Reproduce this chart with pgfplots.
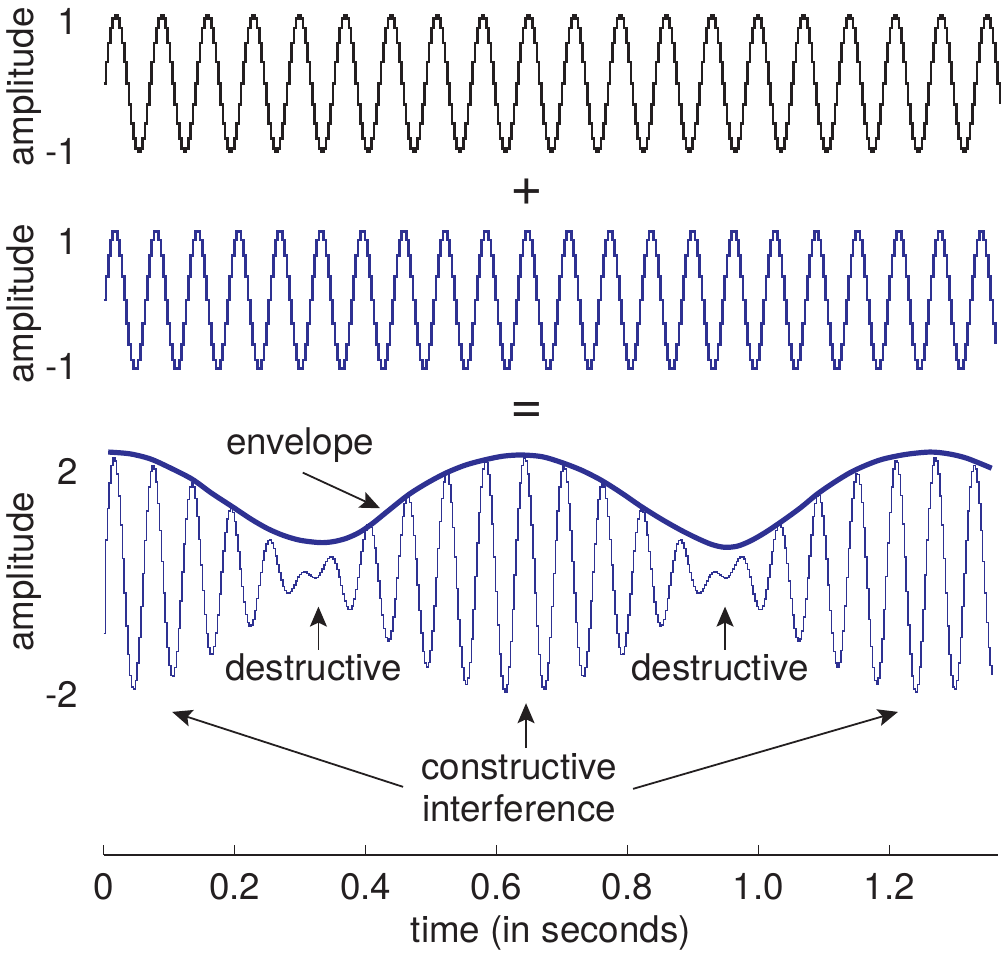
\documentclass[border=0pt]{standalone}
\usepackage{fontspec}
\setmainfont{TeX Gyre Heros}
\usepackage{pgfplots}
\pgfplotsset{compat=1.18}
\usepackage{pgfplotstable}
\usetikzlibrary{arrows.meta}
\definecolor{wblue}{RGB}{46,49,146}
\definecolor{wblack}{RGB}{35,31,32}
\newcommand\lbl{\fontsize{18.4}{22}\selectfont}

\pgfplotstableread[row sep=\\]{
t a b\\
0 0 0\\ 0.0035 0.309 0.342\\ 0.007 0.588 0.643\\ 0.0105 0.809 0.866\\ 0.014 0.951 0.985\\ 0.0175 1 0.985\\ 0.021 0.951 0.866\\ 0.0245 0.809 0.643\\ 0.028 0.588 0.342\\ 0.0315 0.309 0\\ 0.035 0 -0.342\\ 0.0385 -0.309 -0.643\\ 0.042 -0.588 -0.866\\ 0.0455 -0.809 -0.985\\ 0.049 -0.951 -0.985\\ 0.0525 -1 -0.866\\ 0.056 -0.951 -0.643\\ 0.0595 -0.809 -0.342\\ 0.063 -0.588 0\\ 0.0665 -0.309 0.342\\
0.07 0 0.643\\ 0.0735 0.309 0.866\\ 0.077 0.588 0.985\\ 0.0805 0.809 0.985\\ 0.084 0.951 0.866\\ 0.0875 1 0.643\\ 0.091 0.951 0.342\\ 0.0945 0.809 0\\ 0.098 0.588 -0.342\\ 0.1015 0.309 -0.643\\ 0.105 0 -0.866\\ 0.1085 -0.309 -0.985\\ 0.112 -0.588 -0.985\\ 0.1155 -0.809 -0.866\\ 0.119 -0.951 -0.643\\ 0.1225 -1 -0.342\\ 0.126 -0.951 0\\ 0.1295 -0.809 0.342\\ 0.133 -0.588 0.643\\ 0.1365 -0.309 0.866\\
0.14 0 0.985\\ 0.1435 0.309 0.985\\ 0.147 0.588 0.866\\ 0.1505 0.809 0.643\\ 0.154 0.951 0.342\\ 0.1575 1 0\\ 0.161 0.951 -0.342\\ 0.1645 0.809 -0.643\\ 0.168 0.588 -0.866\\ 0.1715 0.309 -0.985\\ 0.175 0 -0.985\\ 0.1785 -0.309 -0.866\\ 0.182 -0.588 -0.643\\ 0.1855 -0.809 -0.342\\ 0.189 -0.951 0\\ 0.1925 -1 0.342\\ 0.196 -0.951 0.643\\ 0.1995 -0.809 0.866\\ 0.203 -0.588 0.985\\ 0.2065 -0.309 0.985\\
0.21 0 0.866\\ 0.2135 0.309 0.643\\ 0.217 0.588 0.342\\ 0.2205 0.809 0\\ 0.224 0.951 -0.342\\ 0.2275 1 -0.643\\ 0.231 0.951 -0.866\\ 0.2345 0.809 -0.985\\ 0.238 0.588 -0.985\\ 0.2415 0.309 -0.866\\ 0.245 0 -0.643\\ 0.2485 -0.309 -0.342\\ 0.252 -0.588 0\\ 0.2555 -0.809 0.342\\ 0.259 -0.951 0.643\\ 0.2625 -1 0.866\\ 0.266 -0.951 0.985\\ 0.2695 -0.809 0.985\\ 0.273 -0.588 0.866\\ 0.2765 -0.309 0.643\\
0.28 0 0.342\\ 0.2835 0.309 0\\ 0.287 0.588 -0.342\\ 0.2905 0.809 -0.643\\ 0.294 0.951 -0.866\\ 0.2975 1 -0.985\\ 0.301 0.951 -0.985\\ 0.3045 0.809 -0.866\\ 0.308 0.588 -0.643\\ 0.3115 0.309 -0.342\\ 0.315 0 0\\ 0.3185 -0.309 0.342\\ 0.322 -0.588 0.643\\ 0.3255 -0.809 0.866\\ 0.329 -0.951 0.985\\ 0.3325 -1 0.985\\ 0.336 -0.951 0.866\\ 0.3395 -0.809 0.643\\ 0.343 -0.588 0.342\\ 0.3465 -0.309 0\\
0.35 0 -0.342\\ 0.3535 0.309 -0.643\\ 0.357 0.588 -0.866\\ 0.3605 0.809 -0.985\\ 0.364 0.951 -0.985\\ 0.3675 1 -0.866\\ 0.371 0.951 -0.643\\ 0.3745 0.809 -0.342\\ 0.378 0.588 0\\ 0.3815 0.309 0.342\\ 0.385 0 0.643\\ 0.3885 -0.309 0.866\\ 0.392 -0.588 0.985\\ 0.3955 -0.809 0.985\\ 0.399 -0.951 0.866\\ 0.4025 -1 0.643\\ 0.406 -0.951 0.342\\ 0.4095 -0.809 0\\ 0.413 -0.588 -0.342\\ 0.4165 -0.309 -0.643\\
0.42 0 -0.866\\ 0.4235 0.309 -0.985\\ 0.427 0.588 -0.985\\ 0.4305 0.809 -0.866\\ 0.434 0.951 -0.643\\ 0.4375 1 -0.342\\ 0.441 0.951 0\\ 0.4445 0.809 0.342\\ 0.448 0.588 0.643\\ 0.4515 0.309 0.866\\ 0.455 0 0.985\\ 0.4585 -0.309 0.985\\ 0.462 -0.588 0.866\\ 0.4655 -0.809 0.643\\ 0.469 -0.951 0.342\\ 0.4725 -1 0\\ 0.476 -0.951 -0.342\\ 0.4795 -0.809 -0.643\\ 0.483 -0.588 -0.866\\ 0.4865 -0.309 -0.985\\
0.49 0 -0.985\\ 0.4935 0.309 -0.866\\ 0.497 0.588 -0.643\\ 0.5005 0.809 -0.342\\ 0.504 0.951 0\\ 0.5075 1 0.342\\ 0.511 0.951 0.643\\ 0.5145 0.809 0.866\\ 0.518 0.588 0.985\\ 0.5215 0.309 0.985\\ 0.525 0 0.866\\ 0.5285 -0.309 0.643\\ 0.532 -0.588 0.342\\ 0.5355 -0.809 0\\ 0.539 -0.951 -0.342\\ 0.5425 -1 -0.643\\ 0.546 -0.951 -0.866\\ 0.5495 -0.809 -0.985\\ 0.553 -0.588 -0.985\\ 0.5565 -0.309 -0.866\\
0.56 0 -0.643\\ 0.5635 0.309 -0.342\\ 0.567 0.588 0\\ 0.5705 0.809 0.342\\ 0.574 0.951 0.643\\ 0.5775 1 0.866\\ 0.581 0.951 0.985\\ 0.5845 0.809 0.985\\ 0.588 0.588 0.866\\ 0.5915 0.309 0.643\\ 0.595 0 0.342\\ 0.5985 -0.309 0\\ 0.602 -0.588 -0.342\\ 0.6055 -0.809 -0.643\\ 0.609 -0.951 -0.866\\ 0.6125 -1 -0.985\\ 0.616 -0.951 -0.985\\ 0.6195 -0.809 -0.866\\ 0.623 -0.588 -0.643\\ 0.6265 -0.309 -0.342\\
0.63 0 0\\ 0.6335 0.309 0.342\\ 0.637 0.588 0.643\\ 0.6405 0.809 0.866\\ 0.644 0.951 0.985\\ 0.6475 1 0.985\\ 0.651 0.951 0.866\\ 0.6545 0.809 0.643\\ 0.658 0.588 0.342\\ 0.6615 0.309 0\\ 0.665 0 -0.342\\ 0.6685 -0.309 -0.643\\ 0.672 -0.588 -0.866\\ 0.6755 -0.809 -0.985\\ 0.679 -0.951 -0.985\\ 0.6825 -1 -0.866\\ 0.686 -0.951 -0.643\\ 0.6895 -0.809 -0.342\\ 0.693 -0.588 0\\ 0.6965 -0.309 0.342\\
0.7 0 0.643\\ 0.7035 0.309 0.866\\ 0.707 0.588 0.985\\ 0.7105 0.809 0.985\\ 0.714 0.951 0.866\\ 0.7175 1 0.643\\ 0.721 0.951 0.342\\ 0.7245 0.809 0\\ 0.728 0.588 -0.342\\ 0.7315 0.309 -0.643\\ 0.735 0 -0.866\\ 0.7385 -0.309 -0.985\\ 0.742 -0.588 -0.985\\ 0.7455 -0.809 -0.866\\ 0.749 -0.951 -0.643\\ 0.7525 -1 -0.342\\ 0.756 -0.951 0\\ 0.7595 -0.809 0.342\\ 0.763 -0.588 0.643\\ 0.7665 -0.309 0.866\\
0.77 0 0.985\\ 0.7735 0.309 0.985\\ 0.777 0.588 0.866\\ 0.7805 0.809 0.643\\ 0.784 0.951 0.342\\ 0.7875 1 0\\ 0.791 0.951 -0.342\\ 0.7945 0.809 -0.643\\ 0.798 0.588 -0.866\\ 0.8015 0.309 -0.985\\ 0.805 0 -0.985\\ 0.8085 -0.309 -0.866\\ 0.812 -0.588 -0.643\\ 0.8155 -0.809 -0.342\\ 0.819 -0.951 0\\ 0.8225 -1 0.342\\ 0.826 -0.951 0.643\\ 0.8295 -0.809 0.866\\ 0.833 -0.588 0.985\\ 0.8365 -0.309 0.985\\
0.84 0 0.866\\ 0.8435 0.309 0.643\\ 0.847 0.588 0.342\\ 0.8505 0.809 0\\ 0.854 0.951 -0.342\\ 0.8575 1 -0.643\\ 0.861 0.951 -0.866\\ 0.8645 0.809 -0.985\\ 0.868 0.588 -0.985\\ 0.8715 0.309 -0.866\\ 0.875 0 -0.643\\ 0.8785 -0.309 -0.342\\ 0.882 -0.588 0\\ 0.8855 -0.809 0.342\\ 0.889 -0.951 0.643\\ 0.8925 -1 0.866\\ 0.896 -0.951 0.985\\ 0.8995 -0.809 0.985\\ 0.903 -0.588 0.866\\ 0.9065 -0.309 0.643\\
0.91 0 0.342\\ 0.9135 0.309 0\\ 0.917 0.588 -0.342\\ 0.9205 0.809 -0.643\\ 0.924 0.951 -0.866\\ 0.9275 1 -0.985\\ 0.931 0.951 -0.985\\ 0.9345 0.809 -0.866\\ 0.938 0.588 -0.643\\ 0.9415 0.309 -0.342\\ 0.945 0 0\\ 0.9485 -0.309 0.342\\ 0.952 -0.588 0.643\\ 0.9555 -0.809 0.866\\ 0.959 -0.951 0.985\\ 0.9625 -1 0.985\\ 0.966 -0.951 0.866\\ 0.9695 -0.809 0.643\\ 0.973 -0.588 0.342\\ 0.9765 -0.309 0\\
0.98 0 -0.342\\ 0.9835 0.309 -0.643\\ 0.987 0.588 -0.866\\ 0.9905 0.809 -0.985\\ 0.994 0.951 -0.985\\ 0.9975 1 -0.866\\ 1.001 0.951 -0.643\\ 1.0045 0.809 -0.342\\ 1.008 0.588 0\\ 1.0115 0.309 0.342\\ 1.015 0 0.643\\ 1.0185 -0.309 0.866\\ 1.022 -0.588 0.985\\ 1.0255 -0.809 0.985\\ 1.029 -0.951 0.866\\ 1.0325 -1 0.643\\ 1.036 -0.951 0.342\\ 1.0395 -0.809 0\\ 1.043 -0.588 -0.342\\ 1.0465 -0.309 -0.643\\
1.05 0 -0.866\\ 1.0535 0.309 -0.985\\ 1.057 0.588 -0.985\\ 1.0605 0.809 -0.866\\ 1.064 0.951 -0.643\\ 1.0675 1 -0.342\\ 1.071 0.951 0\\ 1.0745 0.809 0.342\\ 1.078 0.588 0.643\\ 1.0815 0.309 0.866\\ 1.085 0 0.985\\ 1.0885 -0.309 0.985\\ 1.092 -0.588 0.866\\ 1.0955 -0.809 0.643\\ 1.099 -0.951 0.342\\ 1.1025 -1 0\\ 1.106 -0.951 -0.342\\ 1.1095 -0.809 -0.643\\ 1.113 -0.588 -0.866\\ 1.1165 -0.309 -0.985\\
1.12 0 -0.985\\ 1.1235 0.309 -0.866\\ 1.127 0.588 -0.643\\ 1.1305 0.809 -0.342\\ 1.134 0.951 0\\ 1.1375 1 0.342\\ 1.141 0.951 0.643\\ 1.1445 0.809 0.866\\ 1.148 0.588 0.985\\ 1.1515 0.309 0.985\\ 1.155 0 0.866\\ 1.1585 -0.309 0.643\\ 1.162 -0.588 0.342\\ 1.1655 -0.809 0\\ 1.169 -0.951 -0.342\\ 1.1725 -1 -0.643\\ 1.176 -0.951 -0.866\\ 1.1795 -0.809 -0.985\\ 1.183 -0.588 -0.985\\ 1.1865 -0.309 -0.866\\
1.19 0 -0.643\\ 1.1935 0.309 -0.342\\ 1.197 0.588 0\\ 1.2005 0.809 0.342\\ 1.204 0.951 0.643\\ 1.2075 1 0.866\\ 1.211 0.951 0.985\\ 1.2145 0.809 0.985\\ 1.218 0.588 0.866\\ 1.2215 0.309 0.643\\ 1.225 0 0.342\\ 1.2285 -0.309 0\\ 1.232 -0.588 -0.342\\ 1.2355 -0.809 -0.643\\ 1.239 -0.951 -0.866\\ 1.2425 -1 -0.985\\ 1.246 -0.951 -0.985\\ 1.2495 -0.809 -0.866\\ 1.253 -0.588 -0.643\\ 1.2565 -0.309 -0.342\\
1.26 0 0\\ 1.2635 0.309 0.342\\ 1.267 0.588 0.643\\ 1.2705 0.809 0.866\\ 1.274 0.951 0.985\\ 1.2775 1 0.985\\ 1.281 0.951 0.866\\ 1.2845 0.809 0.643\\ 1.288 0.588 0.342\\ 1.2915 0.309 0\\ 1.295 0 -0.342\\ 1.2985 -0.309 -0.643\\ 1.302 -0.588 -0.866\\ 1.3055 -0.809 -0.985\\ 1.309 -0.951 -0.985\\ 1.3125 -1 -0.866\\ 1.316 -0.951 -0.643\\ 1.3195 -0.809 -0.342\\ 1.323 -0.588 0\\ 1.3265 -0.309 0.342\\
1.33 0 0.643\\ 1.3335 0.309 0.866\\ 1.337 0.588 0.985\\ 1.3405 0.809 0.985\\ 1.344 0.951 0.866\\ 1.3475 1 0.643\\ 1.351 0.951 0.342\\ 1.3545 0.809 0\\ 1.358 0.588 -0.342\\ 1.3615 0.309 -0.643\\ 1.365 0 -0.866\\ 1.3685 -0.309 -0.985\\
}\wavetab

\pgfplotstableread[row sep=\\]{
t s\\
0 -1\\ 0.00285 0.591\\ 0.0057 1.129\\ 0.00855 1.565\\ 0.0114 1.861\\ 0.01425 1.990\\ 0.0171 1.941\\ 0.01995 1.719\\ 0.0228 1.344\\ 0.02565 0.850\\ 0.0285 0.282\\ 0.03135 -0.309\\ 0.0342 -0.870\\ 0.03705 -1.350\\ 0.0399 -1.707\\ 0.04275 -1.910\\ 0.0456 -1.941\\ 0.04845 -1.799\\ 0.0513 -1.498\\ 0.05415 -1.065\\
0.057 -0.541\\ 0.05985 0.027\\ 0.0627 0.588\\ 0.06555 1.091\\ 0.0684 1.492\\ 0.07125 1.756\\ 0.0741 1.861\\ 0.07695 1.799\\ 0.0798 1.578\\ 0.08265 1.219\\ 0.0855 0.756\\ 0.08835 0.232\\ 0.0912 -0.306\\ 0.09405 -0.809\\ 0.0969 -1.233\\ 0.09975 -1.541\\ 0.1026 -1.707\\ 0.10545 -1.719\\ 0.1083 -1.578\\ 0.11115 -1.299\\
0.114 -0.910\\ 0.11685 -0.447\\ 0.1197 0.047\\ 0.12255 0.527\\ 0.1254 0.951\\ 0.12825 1.282\\ 0.1311 1.492\\ 0.13395 1.565\\ 0.1368 1.498\\ 0.13965 1.299\\ 0.1425 0.990\\ 0.14535 0.601\\ 0.1482 0.168\\ 0.15105 -0.268\\ 0.1539 -0.669\\ 0.15675 -1\\ 0.1596 -1.233\\ 0.16245 -1.350\\ 0.1653 -1.344\\ 0.16815 -1.219\\
0.171 -0.990\\ 0.17385 -0.681\\ 0.1767 -0.322\\ 0.17955 0.053\\ 0.1824 0.410\\ 0.18525 0.718\\ 0.1881 0.951\\ 0.19095 1.091\\ 0.1938 1.129\\ 0.19665 1.065\\ 0.1995 0.910\\ 0.20235 0.681\\ 0.2052 0.402\\ 0.20805 0.101\\ 0.2109 -0.195\\ 0.21375 -0.459\\ 0.2166 -0.669\\ 0.21945 -0.809\\ 0.2223 -0.870\\ 0.22515 -0.850\\
0.228 -0.756\\ 0.23085 -0.601\\ 0.2337 -0.402\\ 0.23655 -0.181\\ 0.2394 0.041\\ 0.24225 0.244\\ 0.2451 0.410\\ 0.24795 0.527\\ 0.2508 0.588\\ 0.25365 0.591\\ 0.2565 0.541\\ 0.25935 0.447\\ 0.2622 0.322\\ 0.26505 0.181\\ 0.2679 0.039\\ 0.27075 -0.090\\ 0.2736 -0.195\\ 0.27645 -0.268\\ 0.2793 -0.306\\ 0.28215 -0.309\\
0.285 -0.282\\ 0.28785 -0.232\\ 0.2907 -0.168\\ 0.29355 -0.101\\ 0.2964 -0.039\\ 0.29925 0.010\\ 0.3021 0.041\\ 0.30495 0.053\\ 0.3078 0.047\\ 0.31065 0.027\\ 0.3135 0\\ 0.31635 -0.027\\ 0.3192 -0.047\\ 0.32205 -0.053\\ 0.3249 -0.041\\ 0.32775 -0.010\\ 0.3306 0.039\\ 0.33345 0.101\\ 0.3363 0.168\\ 0.33915 0.232\\
0.342 0.282\\ 0.34485 0.309\\ 0.3477 0.306\\ 0.35055 0.268\\ 0.3534 0.195\\ 0.35625 0.090\\ 0.3591 -0.039\\ 0.36195 -0.181\\ 0.3648 -0.322\\ 0.36765 -0.447\\ 0.3705 -0.541\\ 0.37335 -0.591\\ 0.3762 -0.588\\ 0.37905 -0.527\\ 0.3819 -0.410\\ 0.38475 -0.244\\ 0.3876 -0.041\\ 0.39045 0.181\\ 0.3933 0.402\\ 0.39615 0.601\\
0.399 0.756\\ 0.40185 0.850\\ 0.4047 0.870\\ 0.40755 0.809\\ 0.4104 0.669\\ 0.41325 0.459\\ 0.4161 0.195\\ 0.41895 -0.101\\ 0.4218 -0.402\\ 0.42465 -0.681\\ 0.4275 -0.910\\ 0.43035 -1.065\\ 0.4332 -1.129\\ 0.43605 -1.091\\ 0.4389 -0.951\\ 0.44175 -0.718\\ 0.4446 -0.410\\ 0.44745 -0.053\\ 0.4503 0.322\\ 0.45315 0.681\\
0.456 0.990\\ 0.45885 1.219\\ 0.4617 1.344\\ 0.46455 1.350\\ 0.4674 1.233\\ 0.47025 1\\ 0.4731 0.669\\ 0.47595 0.268\\ 0.4788 -0.168\\ 0.48165 -0.601\\ 0.4845 -0.990\\ 0.48735 -1.299\\ 0.4902 -1.498\\ 0.49305 -1.565\\ 0.4959 -1.492\\ 0.49875 -1.282\\ 0.5016 -0.951\\ 0.50445 -0.527\\ 0.5073 -0.047\\ 0.51015 0.447\\
0.513 0.910\\ 0.51585 1.299\\ 0.5187 1.578\\ 0.52155 1.719\\ 0.5244 1.707\\ 0.52725 1.541\\ 0.5301 1.233\\ 0.53295 0.809\\ 0.5358 0.306\\ 0.53865 -0.232\\ 0.5415 -0.756\\ 0.54435 -1.219\\ 0.5472 -1.578\\ 0.55005 -1.799\\ 0.5529 -1.861\\ 0.55575 -1.756\\ 0.5586 -1.492\\ 0.56145 -1.091\\ 0.5643 -0.588\\ 0.56715 -0.027\\
0.57 0.541\\ 0.57285 1.065\\ 0.5757 1.498\\ 0.57855 1.799\\ 0.5814 1.941\\ 0.58425 1.910\\ 0.5871 1.707\\ 0.58995 1.350\\ 0.5928 0.870\\ 0.59565 0.309\\ 0.5985 -0.282\\ 0.60135 -0.850\\ 0.6042 -1.344\\ 0.60705 -1.719\\ 0.6099 -1.941\\ 0.61275 -1.990\\ 0.6156 -1.861\\ 0.61845 -1.565\\ 0.6213 -1.129\\ 0.62415 -0.591\\
0.627 0\\ 0.62985 0.591\\ 0.6327 1.129\\ 0.63555 1.565\\ 0.6384 1.861\\ 0.64125 1.990\\ 0.6441 1.941\\ 0.64695 1.719\\ 0.6498 1.344\\ 0.65265 0.850\\ 0.6555 0.282\\ 0.65835 -0.309\\ 0.6612 -0.870\\ 0.66405 -1.350\\ 0.6669 -1.707\\ 0.66975 -1.910\\ 0.6726 -1.941\\ 0.67545 -1.799\\ 0.6783 -1.498\\ 0.68115 -1.065\\
0.684 -0.541\\ 0.68685 0.027\\ 0.6897 0.588\\ 0.69255 1.091\\ 0.6954 1.492\\ 0.69825 1.756\\ 0.7011 1.861\\ 0.70395 1.799\\ 0.7068 1.578\\ 0.70965 1.219\\ 0.7125 0.756\\ 0.71535 0.232\\ 0.7182 -0.306\\ 0.72105 -0.809\\ 0.7239 -1.233\\ 0.72675 -1.541\\ 0.7296 -1.707\\ 0.73245 -1.719\\ 0.7353 -1.578\\ 0.73815 -1.299\\
0.741 -0.910\\ 0.74385 -0.447\\ 0.7467 0.047\\ 0.74955 0.527\\ 0.7524 0.951\\ 0.75525 1.282\\ 0.7581 1.492\\ 0.76095 1.565\\ 0.7638 1.498\\ 0.76665 1.299\\ 0.7695 0.990\\ 0.77235 0.601\\ 0.7752 0.168\\ 0.77805 -0.268\\ 0.7809 -0.669\\ 0.78375 -1\\ 0.7866 -1.233\\ 0.78945 -1.350\\ 0.7923 -1.344\\ 0.79515 -1.219\\
0.798 -0.990\\ 0.80085 -0.681\\ 0.8037 -0.322\\ 0.80655 0.053\\ 0.8094 0.410\\ 0.81225 0.718\\ 0.8151 0.951\\ 0.81795 1.091\\ 0.8208 1.129\\ 0.82365 1.065\\ 0.8265 0.910\\ 0.82935 0.681\\ 0.8322 0.402\\ 0.83505 0.101\\ 0.8379 -0.195\\ 0.84075 -0.459\\ 0.8436 -0.669\\ 0.84645 -0.809\\ 0.8493 -0.870\\ 0.85215 -0.850\\
0.855 -0.756\\ 0.85785 -0.601\\ 0.8607 -0.402\\ 0.86355 -0.181\\ 0.8664 0.041\\ 0.86925 0.244\\ 0.8721 0.410\\ 0.87495 0.527\\ 0.8778 0.588\\ 0.88065 0.591\\ 0.8835 0.541\\ 0.88635 0.447\\ 0.8892 0.322\\ 0.89205 0.181\\ 0.8949 0.039\\ 0.89775 -0.090\\ 0.9006 -0.195\\ 0.90345 -0.268\\ 0.9063 -0.306\\ 0.90915 -0.309\\
0.912 -0.282\\ 0.91485 -0.232\\ 0.9177 -0.168\\ 0.92055 -0.101\\ 0.9234 -0.039\\ 0.92625 0.010\\ 0.9291 0.041\\ 0.93195 0.053\\ 0.9348 0.047\\ 0.93765 0.027\\ 0.9405 0\\ 0.94335 -0.027\\ 0.9462 -0.047\\ 0.94905 -0.053\\ 0.9519 -0.041\\ 0.95475 -0.010\\ 0.9576 0.039\\ 0.96045 0.101\\ 0.9633 0.168\\ 0.96615 0.232\\
0.969 0.282\\ 0.97185 0.309\\ 0.9747 0.306\\ 0.97755 0.268\\ 0.9804 0.195\\ 0.98325 0.090\\ 0.9861 -0.039\\ 0.98895 -0.181\\ 0.9918 -0.322\\ 0.99465 -0.447\\ 0.9975 -0.541\\ 1.00035 -0.591\\ 1.0032 -0.588\\ 1.00605 -0.527\\ 1.0089 -0.410\\ 1.01175 -0.244\\ 1.0146 -0.041\\ 1.01745 0.181\\ 1.0203 0.402\\ 1.02315 0.601\\
1.026 0.756\\ 1.02885 0.850\\ 1.0317 0.870\\ 1.03455 0.809\\ 1.0374 0.669\\ 1.04025 0.459\\ 1.0431 0.195\\ 1.04595 -0.101\\ 1.0488 -0.402\\ 1.05165 -0.681\\ 1.0545 -0.910\\ 1.05735 -1.065\\ 1.0602 -1.129\\ 1.06305 -1.091\\ 1.0659 -0.951\\ 1.06875 -0.718\\ 1.0716 -0.410\\ 1.07445 -0.053\\ 1.0773 0.322\\ 1.08015 0.681\\
1.083 0.990\\ 1.08585 1.219\\ 1.0887 1.344\\ 1.09155 1.350\\ 1.0944 1.233\\ 1.09725 1\\ 1.1001 0.669\\ 1.10295 0.268\\ 1.1058 -0.168\\ 1.10865 -0.601\\ 1.1115 -0.990\\ 1.11435 -1.299\\ 1.1172 -1.498\\ 1.12005 -1.565\\ 1.1229 -1.492\\ 1.12575 -1.282\\ 1.1286 -0.951\\ 1.13145 -0.527\\ 1.1343 -0.047\\ 1.13715 0.447\\
1.14 0.910\\ 1.14285 1.299\\ 1.1457 1.578\\ 1.14855 1.719\\ 1.1514 1.707\\ 1.15425 1.541\\ 1.1571 1.233\\ 1.15995 0.809\\ 1.1628 0.306\\ 1.16565 -0.232\\ 1.1685 -0.756\\ 1.17135 -1.219\\ 1.1742 -1.578\\ 1.17705 -1.799\\ 1.1799 -1.861\\ 1.18275 -1.756\\ 1.1856 -1.492\\ 1.18845 -1.091\\ 1.1913 -0.588\\ 1.19415 -0.027\\
1.197 0.541\\ 1.19985 1.065\\ 1.2027 1.498\\ 1.20555 1.799\\ 1.2084 1.941\\ 1.21125 1.910\\ 1.2141 1.707\\ 1.21695 1.350\\ 1.2198 0.870\\ 1.22265 0.309\\ 1.2255 -0.282\\ 1.22835 -0.850\\ 1.2312 -1.344\\ 1.23405 -1.719\\ 1.2369 -1.941\\ 1.23975 -1.990\\ 1.2426 -1.861\\ 1.24545 -1.565\\ 1.2483 -1.129\\ 1.25115 -0.591\\
1.254 0\\ 1.25685 0.591\\ 1.2597 1.129\\ 1.26255 1.565\\ 1.2654 1.861\\ 1.26825 1.990\\ 1.2711 1.941\\ 1.27395 1.719\\ 1.2768 1.344\\ 1.27965 0.850\\ 1.2825 0.282\\ 1.28535 -0.309\\ 1.2882 -0.870\\ 1.29105 -1.350\\ 1.2939 -1.707\\ 1.29675 -1.910\\ 1.2996 -1.941\\ 1.30245 -1.799\\ 1.3053 -1.498\\ 1.30815 -1.065\\
1.311 -0.541\\ 1.31385 0.027\\ 1.3167 0.588\\ 1.31955 1.091\\ 1.3224 1.492\\ 1.32525 1.756\\ 1.3281 1.861\\ 1.33095 1.799\\ 1.3338 1.578\\ 1.33665 1.219\\ 1.3395 0.756\\ 1.34235 0.232\\ 1.3452 -0.306\\ 1.34805 -0.809\\ 1.3509 -1.233\\ 1.35375 -1.541\\ 1.3566 -1.707\\
}\sumtab

\pgfplotsset{
  common/.style={
    scale only axis, anchor=south west, width=447.35pt,
    xmin=0, xmax=1.366, clip=false,
    tick label style={font=\lbl, text=wblack},
    ytick style={draw=none},
    yticklabel style={inner sep=0pt, xshift=-12.75pt},
    label style={font=\lbl, text=wblack},
    every axis y label/.style={rotate=90, anchor=center, font=\lbl, text=wblack},
  },
  upper/.style={common, axis line style={draw=none}, xtick=\empty, major tick length=0pt,
    ymin=-1.1, ymax=1.1},
}

\begin{document}
\begin{tikzpicture}
\path (0,0) rectangle (502pt,479.5pt);

\begin{axis}[upper, at={(51.75pt,400.25pt)}, height=75.2pt,
  ytick={-1,0.901}, yticklabels={-1,1},
  ylabel={amplitude}, ylabel style={at={(axis description cs:-0.0889,0.475)}}]
\addplot[const plot, wblack, line width=1.3pt] table[x=t,y=a]{\wavetab};
\end{axis}

\begin{axis}[upper, at={(51.75pt,291.4pt)}, height=76.25pt,
  ytick={-0.962,0.841}, yticklabels={-1,1},
  ylabel={amplitude}, ylabel style={at={(axis description cs:-0.0889,0.473)}}]
\addplot[const plot, wblue, line width=1.35pt, skip coords between index={390}{392}] table[x=t,y=b]{\wavetab};
\end{axis}

\begin{axis}[common, at={(51.75pt,52pt)}, height=207.5pt,
  ymin=-4.762, ymax=2.296,
  axis x line*=bottom, axis y line*=left,
  y axis line style={draw=none},
  x axis line style={draw=wblack, line width=0.8pt},
  xtick={0,0.2,0.4,0.6,0.8,1.0,1.2}, xticklabels={0,0.2,0.4,0.6,0.8,1.0,1.2},
  xtick align=inside, major tick length=5pt,
  xtick style={draw=wblack, line width=0.8pt},
  xticklabel style={inner sep=0pt, yshift=-9pt},
  ytick={-2.041,1.757}, yticklabels={-2,2},
  xlabel={time (in seconds)},
  xlabel style={at={(axis description cs:0.5,0)}, anchor=center, yshift=-39.25pt},
  ylabel={amplitude}, ylabel style={at={(axis description cs:-0.0889,0.682)}}]
\addplot[const plot, wblue, line width=0.75pt] table[x=t,y=s]{\sumtab};
\addplot[smooth, wblue, line width=2.6pt] coordinates {
(0.007,2.09) (0.04,2.06) (0.071,1.975) (0.1,1.83) (0.135,1.63) (0.165,1.39) (0.198,1.15) (0.225,0.95) (0.25,0.79) (0.275,0.67) (0.300,0.59) (0.33,0.55) (0.35,0.565) (0.37,0.62) (0.39,0.72) (0.41,0.87) (0.43,1.05) (0.465,1.36) (0.495,1.57) (0.524,1.74) (0.553,1.87) (0.583,1.96) (0.61,2.02) (0.638,2.04) (0.67,2.01) (0.70,1.91) (0.73,1.78) (0.76,1.61) (0.79,1.40) (0.82,1.17) (0.85,0.96) (0.88,0.77) (0.905,0.63) (0.928,0.52) (0.948,0.47) (0.968,0.49) (0.988,0.58) (1.01,0.72) (1.038,0.93) (1.065,1.15) (1.089,1.37) (1.115,1.57) (1.14,1.74) (1.165,1.87) (1.19,1.97) (1.225,2.05) (1.262,2.09) (1.29,2.06) (1.318,1.985) (1.356,1.815)
};
\node[font=\lbl, text=wblack, anchor=base] at (axis cs:0.300,2.041) {envelope};
\node[font=\lbl, text=wblack, anchor=base] at (axis cs:0.3206,-1.803) {destructive};
\node[font=\lbl, text=wblack, anchor=base] at (axis cs:0.9412,-1.803) {destructive};
\node[font=\lbl, text=wblack, anchor=base] at (axis cs:0.6344,-3.486) {constructive};
\node[font=\lbl, text=wblack, anchor=base] at (axis cs:0.6344,-4.196) {interference};
\begin{scope}[wblack, line width=0.9pt, -{Stealth[length=10pt,width=8.5pt,inset=2pt]}]
\draw (axis cs:0.3041,1.740) -- (axis cs:0.4221,1.134);
\draw (axis cs:0.328,-1.276) -- (axis cs:0.328,-0.539);
\draw (axis cs:0.9489,-1.276) -- (axis cs:0.9489,-0.539);
\draw (axis cs:0.645,-2.947) -- (axis cs:0.645,-2.182);
\draw (axis cs:0.4573,-3.605) -- (axis cs:0.1046,-2.330);
\draw (axis cs:0.8084,-3.639) -- (axis cs:1.2130,-2.330);
\end{scope}
\end{axis}

\node[font=\fontsize{28}{30}\selectfont, text=wblack] at (263.35pt,383.15pt) {+};
\node[font=\fontsize{28}{30}\selectfont, text=wblack] at (263.5pt,273pt) {=};
\end{tikzpicture}
\end{document}
